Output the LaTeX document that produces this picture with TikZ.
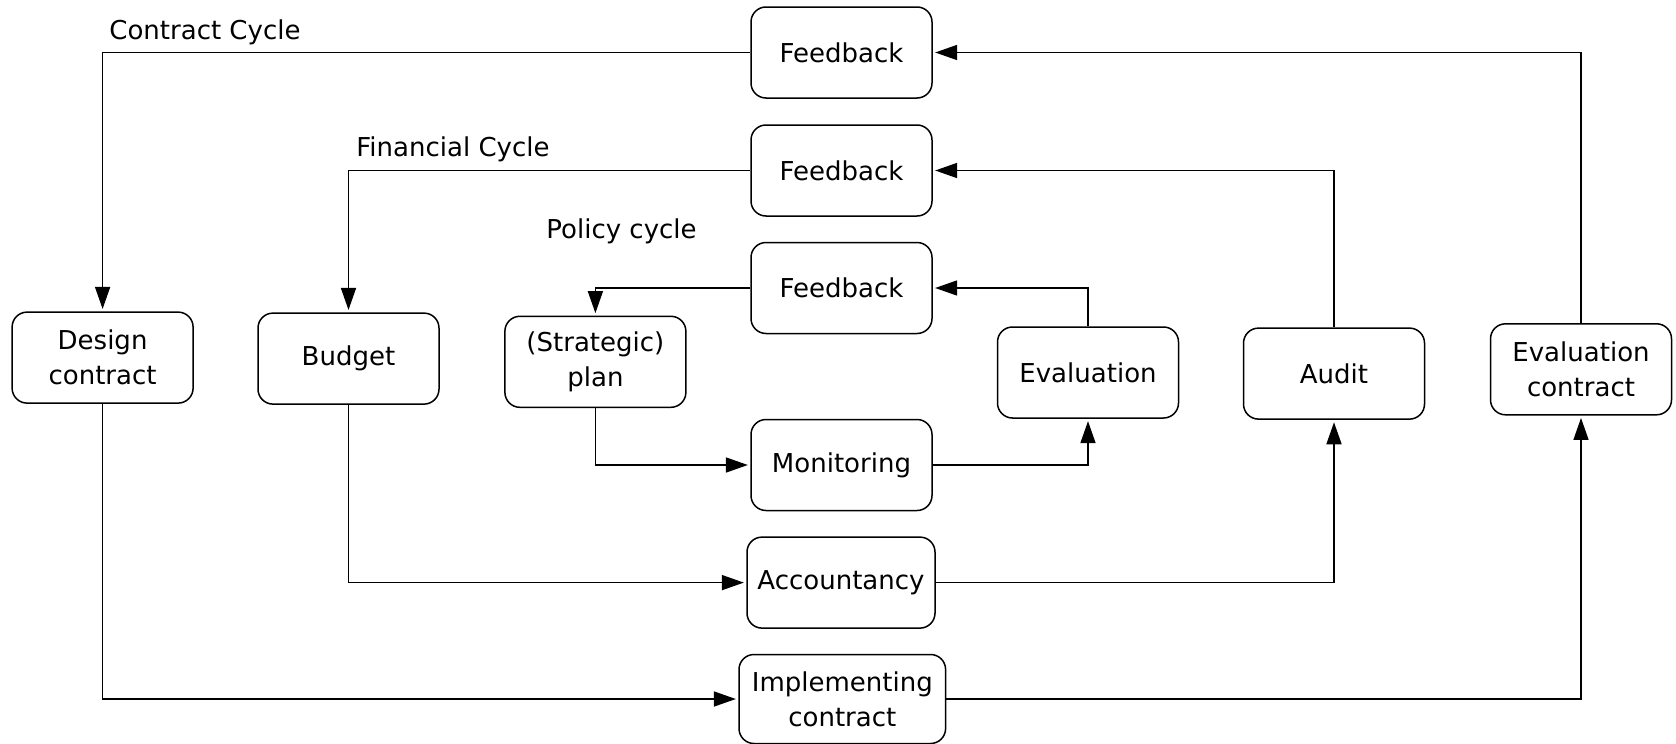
\documentclass[tikz,border=0pt]{standalone}
\usepackage{fontspec}
\setmainfont{DejaVu Sans}
\usetikzlibrary{arrows.meta}
\begin{document}
\begin{tikzpicture}[x=0.5pt,y=-0.5pt,
  box/.style={draw=black,line width=0.75pt,rounded corners=7.5pt,minimum width=90.5pt,minimum height=45.5pt,align=center,inner sep=1pt,font=\fontsize{13}{17.6}\selectfont},
  lbl/.style={anchor=west,inner sep=0pt,font=\fontsize{13}{17.6}\selectfont},
  arr/.style={line width=0.8pt,-{Triangle[length=11pt,width=7.5pt]},shorten >=1.2pt},
  ln/.style={line width=0.8pt}]
\useasboundingbox (0,0) rectangle (1676,744);
% nodes
\node[box] (fb1) at (841.5,52.5) {Feedback};
\node[box] (fb2) at (841.5,170.5) {Feedback};
\node[box] (fb3) at (841.5,288) {Feedback};
\node[box] (design) at (102.6,357.6) {Design\\contract};
\node[box] (budget) at (348.5,358.6) {Budget};
\node[box] (plan) at (595.4,361.8) {(Strategic)\\plan};
\node[box] (eval) at (1088,372.5) {Evaluation};
\node[box] (audit) at (1334,373.6) {Audit};
\node[box] (evalc) at (1581,369.3) {Evaluation\\contract};
\node[box] (mon) at (841.5,465) {Monitoring};
\node[box,minimum width=94pt] (acc) at (841,582.6) {Accountancy};
\node[box,minimum width=103.3pt,minimum height=44.5pt] (impl) at (842.3,699) {Implementing\\contract};
% labels
\node[lbl] (lc) at (109,32) {Contract Cycle};
\node[lbl] (lf) at (356,149.5) {Financial Cycle};
\node[lbl] (lp) at (546,231.5) {Policy cycle};
% connectors
\draw[arr] (fb1.west) -| (design.north);
\draw[arr] (fb2.west) -| (budget.north);
\draw[arr] (fb3.west) -| (plan.north);
\draw[arr] (evalc.north) |- (fb1.east);
\draw[arr] (audit.north) |- (fb2.east);
\draw[arr] (eval.north) |- (fb3.east);
\draw[arr] (plan.south) |- (mon.west);
\draw[arr] (mon.east) -| (eval.south);
\draw[arr] (budget.south) |- (acc.west);
\draw[arr] (acc.east) -| (audit.south);
\draw[arr] (design.south) |- (impl.west);
\draw[arr] (impl.east) -| (evalc.south);
\end{tikzpicture}
\end{document}
